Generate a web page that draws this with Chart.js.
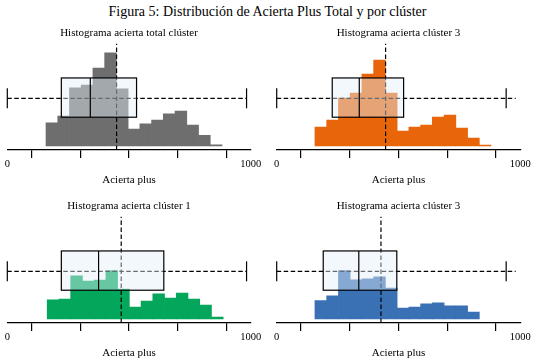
<!DOCTYPE html>
<html lang="es">
<head>
<meta charset="utf-8">
<title>Figura 5</title>
<script src="https://cdn.jsdelivr.net/npm/chart.js@4.4.1/dist/chart.umd.min.js"></script>
<style>
  html, body { margin: 0; padding: 0; background: #fff; overflow: hidden; }
  #wrap { position: relative; width: 535px; height: 362px; }
  #titulo {
    position: absolute; left: 0; top: 4px; width: 535px;
    text-align: center; font-family: 'Liberation Serif', 'Times New Roman', serif;
    font-size: 14px; line-height: 16px; color: #000;
  }
  canvas { position: absolute; }
</style>
</head>
<body>
<div id="wrap">
  <div id="titulo">Figura 5: Distribución de Acierta Plus Total y por clúster</div>
  <canvas id="g0" width="265" height="190" style="left:0;top:0"></canvas>
  <canvas id="g1" width="267" height="190" style="left:268px;top:0"></canvas>
  <canvas id="g2" width="265" height="190" style="left:0;top:172.7px"></canvas>
  <canvas id="g3" width="267" height="190" style="left:268px;top:172.7px"></canvas>
</div>
<script>
// Títulos de cada panel
const titulos = [
  'Histograma acierta total clúster',
  'Histograma acierta clúster 3',
  'Histograma acierta clúster 1',
  'Histograma acierta clúster 3'
];

// Histogramas (% de observaciones por intervalo)
const inicioBin = [159, 157, 164, 157];
const anchoBin = 48.2;
const pctTotal = [4.1, 5.3, 10.3, 10.8, 13.8, 16.5, 10.1, 3.0, 3.9, 4.6, 5.7, 6.2, 3.7, 1.9, 0.2];
const pctC3a = [3.8, 5.2, 9.6, 10.6, 14.4, 17.2, 10.6, 3.0, 3.8, 4.2, 5.8, 6.2, 3.6, 1.6, 0.2];
const pctC1 = [5.1, 5.3, 11.5, 10.1, 10.4, 12.9, 8.0, 3.2, 4.8, 6.7, 5.6, 6.9, 5.3, 3.7, 0.5];
const pctC3b = [5.6, 7.0, 14.7, 11.9, 12.2, 12.8, 9.4, 3.3, 3.6, 4.6, 4.9, 4.0, 4.0, 2.1];
const porcentajes = [pctTotal, pctC3a, pctC1, pctC3b];

// Diagrama de caja de cada panel
const bigoteInf = [0, 0, 0, 0];
const q1 = [222, 228, 222, 191];
const medianas = [341, 339, 375, 337];
const q3 = [531, 521, 643, 493];
const bigoteSup = [983, 942, 983, 942];
const finLinea = [983, 981, 983, 981];
const medias = [449, 447, 468, 428];

// Eje x
const ejeMin = 0;
const ejeMax = 1000;
const pasoTick = 200;

// Rango del eje y (oculto) de cada panel
const yMin = [-0.71, -0.80, -1.07, -1.22];
const yMax = [18.76, 21.24, 28.27, 32.2];

const colores = ['#6e6e6e', '#e8650a', '#03a65b', '#3a70b4'];
const padIzq = [7.3, 8.7, 7.3, 8.7];
const padDer = [14.3, 14.7, 14.3, 14.7];

Chart.defaults.font.family = "'Liberation Serif', 'Times New Roman', serif";
Chart.defaults.color = '#000';

// caja, bigotes y línea de la media
const cajaPlugin = {
  id: 'caja',
  afterDatasetsDraw(chart, args, opts) {
    const k = opts.k;
    const ctx = chart.ctx;
    const px = v => chart.scales.x.getPixelForValue(v);
    const py = v => chart.scales.yBox.getPixelForValue(v);
    ctx.save();
    ctx.strokeStyle = '#000';
    ctx.lineWidth = 1.2;

    // media (vertical, discontinua)
    ctx.setLineDash([4.5, 2.5]);
    ctx.beginPath();
    ctx.moveTo(px(medias[k]), py(0));
    ctx.lineTo(px(medias[k]), py(0.965));
    ctx.stroke();

    // bigotes (horizontal, discontinua)
    ctx.beginPath();
    ctx.moveTo(px(bigoteInf[k]), py(0.47));
    ctx.lineTo(px(finLinea[k]), py(0.47));
    ctx.stroke();
    ctx.setLineDash([]);

    // caja
    const x0 = px(q1[k]), x1 = px(q3[k]);
    const yt = py(0.655), yb = py(0.298);
    ctx.fillStyle = 'rgba(228, 240, 250, 0.45)';
    ctx.fillRect(x0, yt, x1 - x0, yb - yt);
    ctx.strokeRect(x0, yt, x1 - x0, yb - yt);
    ctx.beginPath();
    ctx.moveTo(px(medianas[k]), yt);
    ctx.lineTo(px(medianas[k]), yb);
    ctx.stroke();

    // extremos de los bigotes
    [bigoteInf[k], bigoteSup[k]].forEach(v => {
      ctx.beginPath();
      ctx.moveTo(px(v), py(0.47 - 0.091));
      ctx.lineTo(px(v), py(0.47 + 0.091));
      ctx.stroke();
    });
    ctx.restore();
  }
};

porcentajes.forEach((pct, k) => {
  const datos = pct.map((v, i) => ({ x: inicioBin[k] + (i + 0.5) * anchoBin, y: v }));
  new Chart(document.getElementById('g' + k).getContext('2d'), {
    type: 'bar',
    data: {
      datasets: [{
        data: datos,
        backgroundColor: colores[k],
        borderWidth: 0,
        barPercentage: 1,
        categoryPercentage: 1,
        xAxisID: 'x',
        yAxisID: 'y'
      }]
    },
    plugins: [cajaPlugin],
    options: {
      responsive: false,
      animation: false,
      devicePixelRatio: 1,
      layout: { padding: { left: padIzq[k], right: padDer[k], top: 0, bottom: 0 } },
      plugins: {
        legend: { display: false },
        tooltip: { enabled: false },
        title: {
          display: true,
          text: titulos[k],
          color: '#000',
          font: { size: 11, weight: 'normal', lineHeight: 1.2 },
          padding: { top: 26.4, bottom: 0.4 }
        },
        caja: { k: k }
      },
      scales: {
        x: {
          type: 'linear',
          min: ejeMin,
          max: ejeMax,
          offset: false,
          afterFit: s => { s.height = 40; },
          ticks: {
            stepSize: pasoTick,
            maxRotation: 0,
            padding: 0,
            color: '#000',
            font: { size: 10.5 },
            callback: v => (v === ejeMin || v === ejeMax) ? String(v) : ''
          },
          grid: {
            drawOnChartArea: false,
            drawTicks: true,
            tickLength: 8,
            color: '#000',
            lineWidth: 1.2
          },
          border: { display: true, color: '#000', width: 1.2 },
          title: {
            display: true,
            text: 'Acierta plus',
            color: '#000',
            font: { size: 11, lineHeight: 1.2 },
            padding: { top: 0, bottom: 3.4 }
          }
        },
        y: { display: false, min: yMin[k], max: yMax[k] },
        yBox: { display: false, min: 0, max: 1 }
      }
    }
  });
});
</script>
</body>
</html>
